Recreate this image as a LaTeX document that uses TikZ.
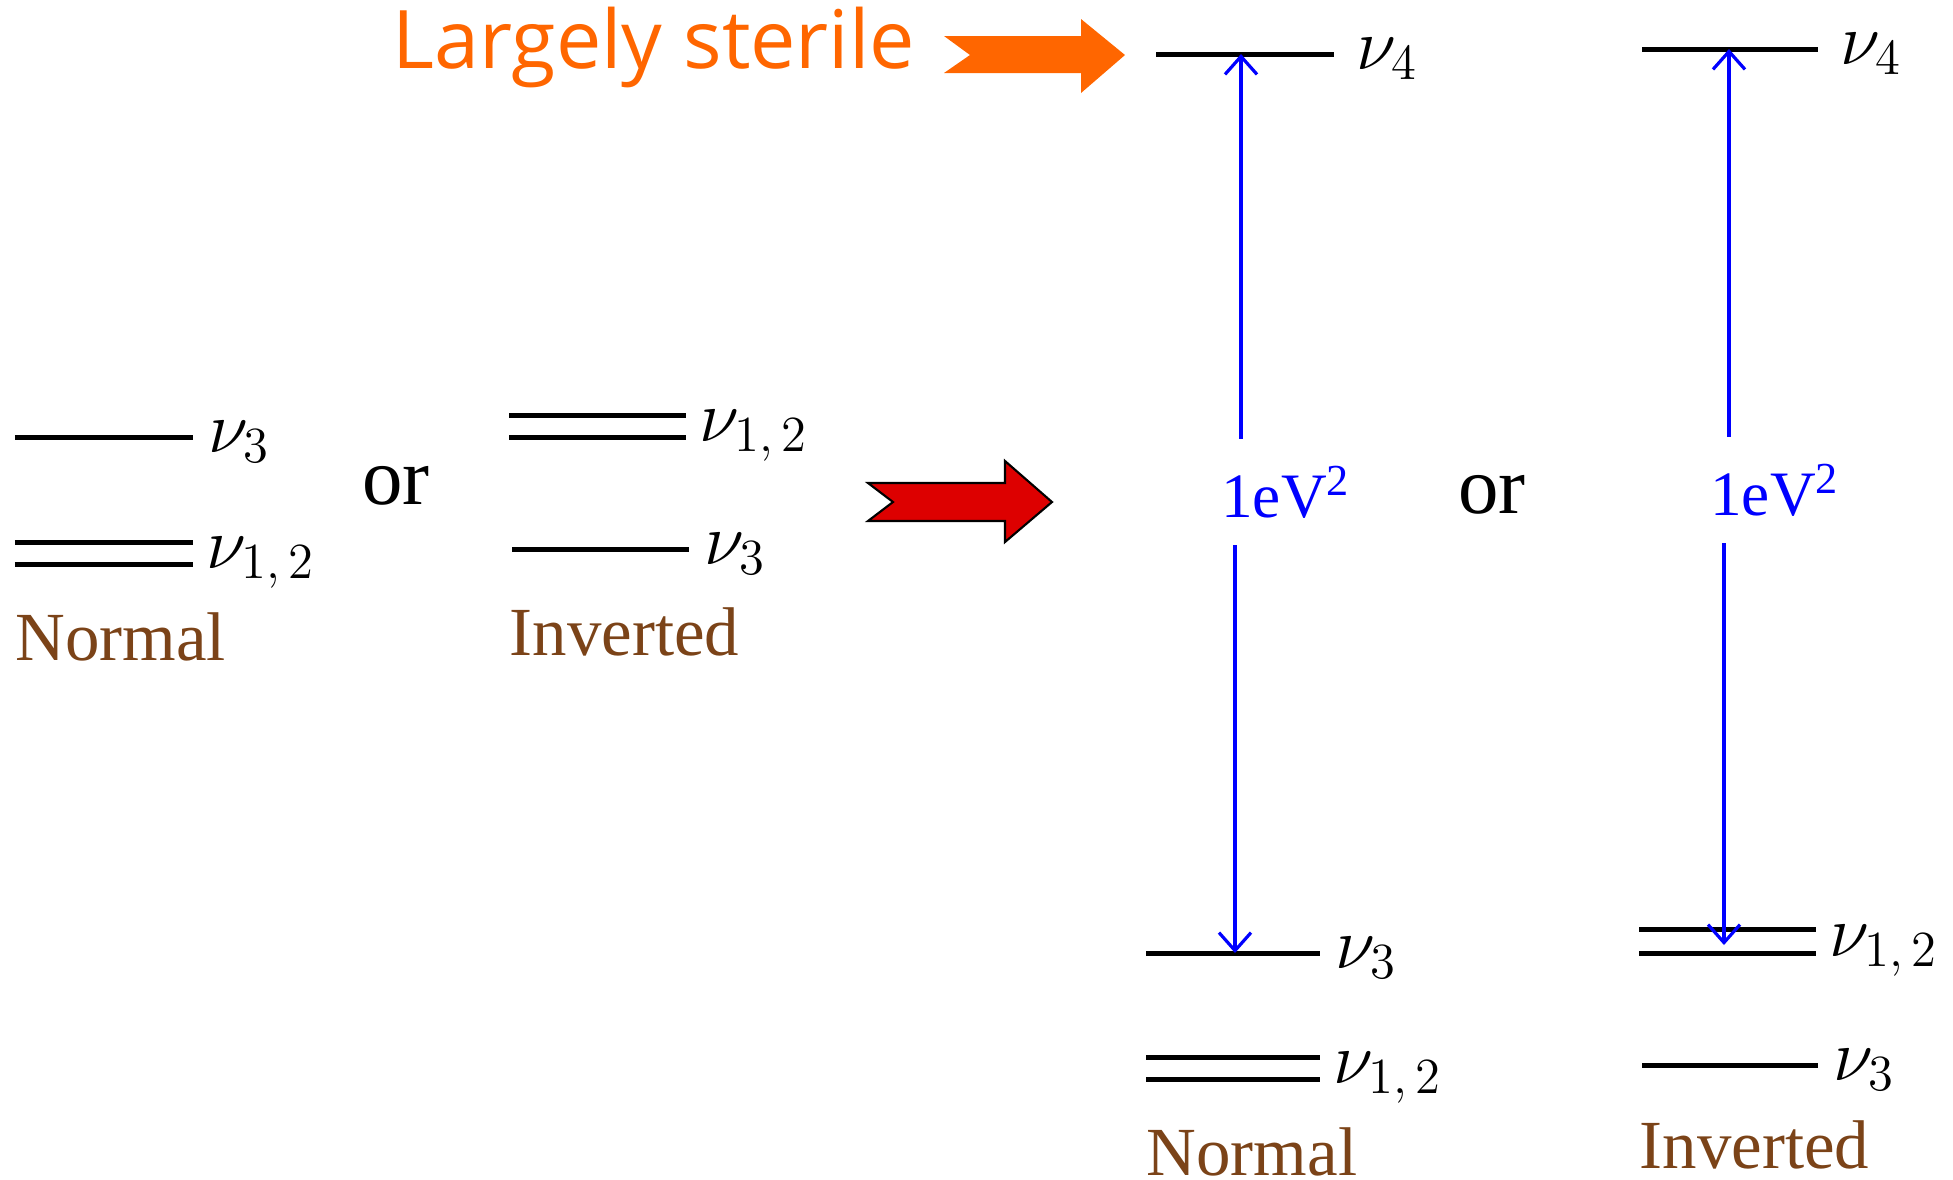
\documentclass[tikz,border=0pt]{standalone}
\usepackage{fontspec}
\setmainfont{Liberation Serif}
\newfontfamily\tagfont{Open Sans}
\usetikzlibrary{arrows.meta}
\definecolor{brn}{RGB}{123,67,24}
\definecolor{orng}{RGB}{255,102,0}
\definecolor{rd}{RGB}{221,0,0}

\begin{document}
\begin{tikzpicture}[font=\fontsize{20}{24}\selectfont,>={Straight Barb[length=1.8mm,width=3.2mm]}]
    \tikzset{lv/.style={line width=0.05cm},
             nl/.style={anchor=base west,inner sep=0pt,xshift=0.13cm,yshift=-0.15cm},
             hcap/.style={anchor=base west,inner sep=0pt,text=brn,font=\fontsize{19.6}{23}\selectfont},
             orw/.style={anchor=base,inner sep=0pt,font=\fontsize{23}{27}\selectfont},
             ev/.style={text=blue,minimum height=1.05cm,inner sep=0pt,font=\fontsize{18}{22}\selectfont},
             ba/.style={->,blue,line width=0.032cm}}
    \useasboundingbox (0,0) rectangle (19.53,-11.80);
    % left: three flavours only
    \draw[lv] (0.15,-4.37) -- (1.93,-4.37) node[nl] (ln3) {$\nu_3$};
    \draw[lv] (0.15,-5.42) -- (1.93,-5.42) (0.15,-5.64) -- (1.93,-5.64);
    \node[nl] (ln12) at (1.93,-5.53) {$\nu_{1,\,2}$};
    \node[hcap] (lnor) at (0.15,-6.60) {Normal};
    \node[orw] (or1) at (3.96,-5.04) {or};
    \draw[lv] (5.09,-4.15) -- (6.86,-4.15) (5.09,-4.37) -- (6.86,-4.37);
    \node[nl] (li12) at (6.86,-4.26) {$\nu_{1,\,2}$};
    \draw[lv] (5.12,-5.49) -- (6.89,-5.49) node[nl] (li3) {$\nu_3$};
    \node[hcap] (linv) at (5.09,-6.55) {Inverted};
    % big arrows
    \draw[fill=rd,line width=0.6pt] (8.68,-4.83) -- (10.05,-4.83) -- (10.05,-4.61) -- (10.52,-5.02)
        -- (10.05,-5.42) -- (10.05,-5.21) -- (8.68,-5.21) -- (8.93,-5.02) -- cycle;
    \fill[orng] (9.44,-0.36) -- (10.81,-0.36) -- (10.81,-0.19) -- (11.25,-0.55)
        -- (10.81,-0.93) -- (10.81,-0.73) -- (9.44,-0.73) -- (9.70,-0.55) -- cycle;
    \node[anchor=base,inner sep=0pt,text=orng,font=\tagfont\fontsize{23}{27}\selectfont] (ster) at (6.54,-0.68) {Largely sterile};
    % right: with nu_4, normal
    \draw[lv] (11.56,-0.54) -- (13.34,-0.54) node[nl,xshift=0.07cm] (rn4) {$\nu_4$};
    \draw[lv] (11.46,-9.53) -- (13.20,-9.53) node[nl] (rn3) {$\nu_3$};
    \draw[lv] (11.46,-10.57) -- (13.20,-10.57) (11.46,-10.79) -- (13.20,-10.79);
    \node[nl] (rn12) at (13.20,-10.68) {$\nu_{1,\,2}$};
    \node[hcap] (rnor) at (11.46,-11.75) {Normal};
    \node[ev] (ev1) at (12.86,-4.92) {1eV\textsuperscript{2}};
    \coordinate (a4) at (12.41,-0.54);
    \coordinate (a3) at (12.35,-9.53);
    \draw[ba] (ev1.north -| a4) -- (a4);
    \draw[ba] (ev1.south -| a3) -- (a3);
    \node[orw] (or2) at (14.92,-5.13) {or};
    % right: with nu_4, inverted
    \draw[lv] (16.42,-0.49) -- (18.18,-0.49) node[nl,xshift=0.07cm] (ri4) {$\nu_4$};
    \draw[lv] (16.39,-9.29) -- (18.16,-9.29) (16.39,-9.53) -- (18.16,-9.53);
    \node[nl] (ri12) at (18.16,-9.41) {$\nu_{1,\,2}$};
    \draw[lv] (16.42,-10.65) -- (18.18,-10.65) node[nl] (ri3) {$\nu_3$};
    \node[hcap] (rinv) at (16.39,-11.68) {Inverted};
    \node[ev] (ev2) at (17.75,-4.90) {1eV\textsuperscript{2}};
    \coordinate (b4) at (17.29,-0.49);
    \coordinate (b12) at (17.24,-9.45);
    \draw[ba] (ev2.north -| b4) -- (b4);
    \draw[ba] (ev2.south -| b12) -- (b12);
  \end{tikzpicture}
\end{document}
